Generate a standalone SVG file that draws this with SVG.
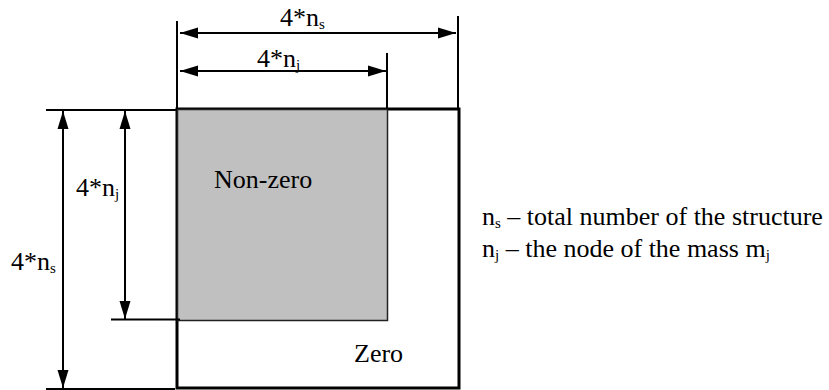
<svg xmlns="http://www.w3.org/2000/svg" width="829" height="390" viewBox="0 0 829 390">
<style>
text{font-family:"Liberation Serif","Times New Roman",serif;font-size:26px;fill:#000}
.sub{font-size:15px}
.dim{stroke:#000;stroke-width:2;fill:none}
.ext{stroke:#000;stroke-width:2;fill:none}
</style>
<defs>
<marker id="ah" markerUnits="userSpaceOnUse" markerWidth="19" markerHeight="12" refX="18" refY="5.5" orient="auto-start-reverse" viewBox="0 0 19 11">
<path d="M0,0 L18,5.5 L0,11 z" fill="#000"/>
</marker>
</defs>
<rect width="829" height="390" fill="#fff"/>
<g id="outer">
<rect x="177" y="109" width="282" height="279" fill="#fff" stroke="#000" stroke-width="3"/>
<text x="354" y="362">Zero</text>
</g>
<g id="nonzero">
<rect x="177.5" y="109.5" width="210" height="211" fill="#c0c0c0" stroke="#222" stroke-width="1.5"/>
<text x="214" y="188">Non-zero</text>
</g>
<g id="connectors">
<line class="ext" x1="177" y1="21" x2="177" y2="109"/>
<line class="ext" x1="458" y1="16" x2="458" y2="109"/>
<line class="ext" x1="387" y1="53" x2="387" y2="109"/>
<line class="ext" x1="46" y1="110" x2="177" y2="110"/>
<line class="ext" x1="111" y1="319.5" x2="180" y2="319.5"/>
<line class="ext" x1="46" y1="389" x2="175" y2="389"/>
<line class="dim" x1="180" y1="33" x2="456" y2="33" marker-start="url(#ah)" marker-end="url(#ah)"/>
<line class="dim" x1="180" y1="71" x2="386" y2="71" marker-start="url(#ah)" marker-end="url(#ah)"/>
<line class="dim" x1="63" y1="111" x2="63" y2="388" marker-start="url(#ah)" marker-end="url(#ah)"/>
<line class="dim" x1="125" y1="111" x2="125" y2="319" marker-start="url(#ah)" marker-end="url(#ah)"/>
</g>
<g id="labels">
<text x="280" y="26">4*n<tspan class="sub" dy="3">s</tspan></text>
<text x="257" y="67">4*n<tspan class="sub" dy="3">j</tspan></text>
<text x="76" y="196">4*n<tspan class="sub" dy="3">j</tspan></text>
<text x="11" y="270">4*n<tspan class="sub" dy="3">s</tspan></text>
</g>
<g id="legend">
<text x="482" y="225">n<tspan class="sub" dy="3">s</tspan><tspan dy="-3"> – total number of the structure</tspan></text>
<text x="482" y="257">n<tspan class="sub" dy="3">j</tspan><tspan dy="-3"> – the node of the mass m</tspan><tspan class="sub" dy="3">j</tspan></text>
</g>
</svg>
